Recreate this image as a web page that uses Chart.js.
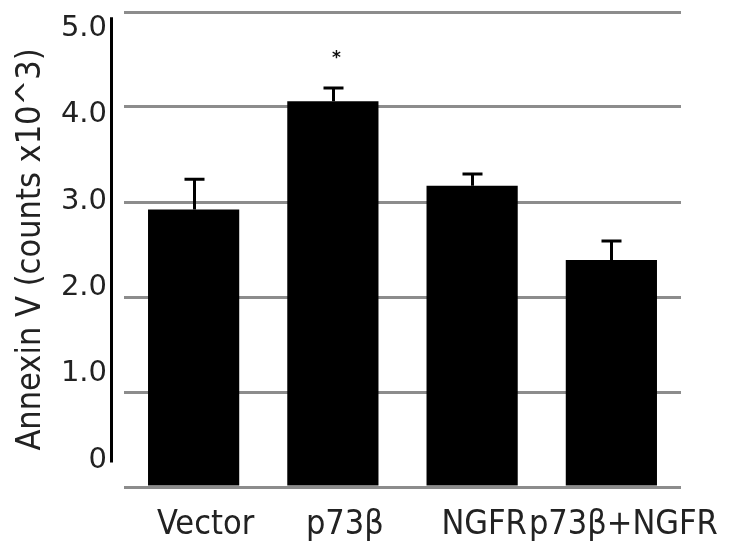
<!DOCTYPE html>
<html>
<head>
<meta charset="utf-8">
<script src="https://cdn.jsdelivr.net/npm/chart.js@4.4.1/dist/chart.umd.min.js"></script>
<style>
  html, body { margin: 0; padding: 0; background: #fff; }
  #wrap { width: 732px; height: 548px; position: relative; }
</style>
</head>
<body>
<div id="wrap"><canvas id="c" width="732" height="548"></canvas></div>
<script>
const categories = ['Vector', 'p73β', 'NGFR', 'p73β+NGFR'];
const meanValues = [2.92, 4.06, 3.17, 2.39];
const errorValues = [0.32, 0.14, 0.125, 0.20];
const significance = ['', '*', '', ''];
const yTickValues = [0, 1, 2, 3, 4, 5];
const yTickLabels = ['0', '1.0', '2.0', '3.0', '4.0', '5.0'];
const yTitle = 'Annexin V (counts x10^3)';

const TEXT = '#222222';
const CONDENSED = "'DejaVu Sans Condensed', 'DejaVu Sans', sans-serif";

const decor = {
  id: 'decor',
  afterDatasetsDraw(chart) {
    const ctx = chart.ctx;
    const meta = chart.getDatasetMeta(0);
    const y = chart.scales.y;
    const y2 = chart.scales.y2;
    ctx.save();
    ctx.strokeStyle = '#000';
    ctx.lineWidth = 3;
    ctx.lineCap = 'butt';
    meta.data.forEach((bar, i) => {
      const x = Math.round(bar.x) + 0.5;
      const top = y.getPixelForValue(meanValues[i]);
      const tip = y.getPixelForValue(meanValues[i] + errorValues[i]);
      ctx.beginPath();
      ctx.moveTo(x, top);
      ctx.lineTo(x, tip);
      ctx.moveTo(x - 10, tip);
      ctx.lineTo(x + 10, tip);
      ctx.stroke();
      if (significance[i]) {
        ctx.fillStyle = '#111';
        ctx.font = "bold 17px 'DejaVu Sans', sans-serif";
        ctx.textAlign = 'center';
        ctx.textBaseline = 'middle';
        ctx.fillText(significance[i], x + 3, tip - 29);
      }
    });
    // left axis line
    const ax = chart.chartArea.left - 12.5;
    ctx.beginPath();
    ctx.moveTo(ax, y2.getPixelForValue(5.13));
    ctx.lineTo(ax, y2.getPixelForValue(-0.03));
    ctx.stroke();
    ctx.restore();
  }
};

new Chart(document.getElementById('c'), {
  type: 'bar',
  data: {
    labels: categories,
    datasets: [{
      data: meanValues,
      backgroundColor: '#000000',
      borderWidth: 0,
      barPercentage: 0.655,
      categoryPercentage: 1.0,
      yAxisID: 'y'
    }]
  },
  options: {
    responsive: false,
    animation: false,
    devicePixelRatio: 1,
    layout: { padding: { left: 0, right: 51, top: 12, bottom: 0 } },
    plugins: { legend: { display: false }, tooltip: { enabled: false } },
    scales: {
      x: {
        grid: { display: false, drawTicks: false },
        border: { display: false },
        ticks: {
          color: TEXT,
          font: { family: CONDENSED, size: 34 },
          padding: 18,
          labelOffset: 12,
          maxRotation: 0,
          minRotation: 0,
          autoSkip: false
        },
        afterFit(s) { s.height = 61; s.paddingLeft = 0; s.paddingRight = 0; }
      },
      y: {
        position: 'right',
        min: 0,
        max: 5,
        afterBuildTicks(s) { s.ticks = yTickValues.map(v => ({ value: v })); },
        grid: { color: '#8c8c8c', lineWidth: 3, drawTicks: false },
        border: { display: false },
        ticks: { display: false },
        afterFit(s) { s.width = 0; s.paddingTop = 0; s.paddingBottom = 0; }
      },
      y2: {
        position: 'left',
        min: -0.313,
        max: 5.191,
        afterBuildTicks(s) { s.ticks = yTickValues.map(v => ({ value: v })); },
        grid: { display: false, drawTicks: false },
        border: { display: false },
        ticks: {
          color: TEXT,
          font: { family: "'DejaVu Sans', sans-serif", size: 29 },
          padding: 17,
          callback: (value, index) => yTickLabels[index]
        },
        title: {
          display: true,
          text: yTitle,
          color: TEXT,
          font: { family: CONDENSED, size: 34 },
          padding: { top: 11, bottom: 0 }
        },
        afterFit(s) { s.width = 124; s.paddingTop = 0; s.paddingBottom = 0; }
      }
    }
  },
  plugins: [decor]
});
</script>
</body>
</html>
